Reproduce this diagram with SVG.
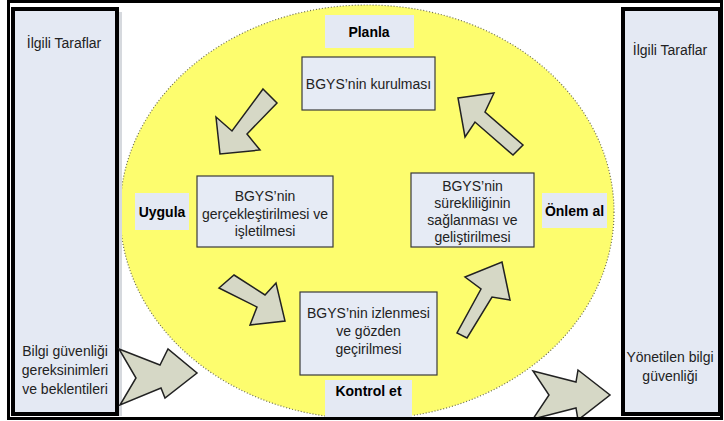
<svg xmlns="http://www.w3.org/2000/svg" width="724" height="421" viewBox="0 0 724 421">
<defs>
<style>
.panel{fill:#e4e9f3;stroke:#000;stroke-width:4}
.node{fill:#e6ebf5;stroke:#3a3a3a;stroke-width:1.2}
.lbl{fill:#e4e9f3;stroke:none}
.t{font-family:"Liberation Sans",Arial,sans-serif;font-size:14px;fill:#222;text-anchor:middle}
.b{font-family:"Liberation Sans",Arial,sans-serif;font-size:14px;font-weight:bold;fill:#000;text-anchor:middle}
.arr{fill:#d6d8c6;stroke:#222;stroke-width:1.5;stroke-linejoin:miter}
</style>
<clipPath id="frameClip"><rect x="8" y="2" width="714" height="416"/></clipPath>
</defs>
<rect x="0" y="0" width="724" height="421" fill="#fff"/>
<g id="cycle-area" clip-path="url(#frameClip)">
<ellipse cx="367" cy="212" rx="247" ry="207" fill="#fdfd6e" stroke="#6e6e50" stroke-width="1.2" stroke-dasharray="1 2"/>
</g>
<g id="left-panel">
<rect x="118" y="12" width="4" height="404" fill="#d6d9de"/>
<rect class="panel" x="13" y="9" width="104" height="405"/>
<text class="t" x="64" y="48">İlgili Taraflar</text>
<text class="t" x="65" y="356">Bilgi güvenliği</text>
<text class="t" x="65" y="375">gereksinimleri</text>
<text class="t" x="65" y="394">ve beklentileri</text>
</g>
<g id="right-panel">
<rect class="panel" x="623" y="9" width="97" height="405"/>
<text class="t" x="670" y="55">İlgili Taraflar</text>
<text class="t" x="670" y="362">Yönetilen bilgi</text>
<text class="t" x="670" y="381">güvenliği</text>
</g>
<g id="planla">
<rect class="lbl" x="325" y="15" width="89" height="33"/>
<text class="b" x="369" y="37">Planla</text>
</g>
<g id="kurulmasi">
<rect class="node" x="302" y="57" width="133" height="53"/>
<text class="t" x="368.5" y="89">BGYS’nin kurulması</text>
</g>
<g id="uygula">
<rect class="lbl" x="135" y="193" width="54" height="37"/>
<text class="b" x="162" y="217">Uygula</text>
</g>
<g id="gerceklestirilmesi">
<rect class="node" x="197" y="176" width="136" height="71"/>
<text class="t" x="265" y="201">BGYS’nin</text>
<text class="t" x="265" y="219">gerçekleştirilmesi ve</text>
<text class="t" x="265" y="236">işletilmesi</text>
</g>
<g id="onlem-al">
<rect class="lbl" x="542" y="193" width="65" height="35"/>
<text class="b" x="574.5" y="216">Önlem al</text>
</g>
<g id="surekliligi">
<rect class="node" x="411" y="173" width="123" height="74"/>
<text class="t" x="472.5" y="191">BGYS’nin</text>
<text class="t" x="472.5" y="208">sürekliliğinin</text>
<text class="t" x="472.5" y="225">sağlanması ve</text>
<text class="t" x="472.5" y="242">geliştirilmesi</text>
</g>
<g id="izlenmesi">
<rect class="node" x="300" y="292" width="137" height="83"/>
<text class="t" x="368.5" y="318">BGYS’nin izlenmesi</text>
<text class="t" x="368.5" y="336">ve gözden</text>
<text class="t" x="368.5" y="354">geçirilmesi</text>
</g>
<g id="kontrol-et">
<rect class="lbl" x="325" y="380" width="87" height="37"/>
<text class="b" x="368.5" y="396">Kontrol et</text>
</g>
<g id="connectors">
<polygon class="arr" points="263,89 277,103 247,134 260,150 220,154 216,117 232,131"/>
<polygon class="arr" points="234,275 265,295 276,283 285,321 250,325 257,307 219,288"/>
<polygon class="arr" points="502,262 510,300 492,297 467,338 457,333 481,289 465,277"/>
<polygon class="arr" points="458,98 494,93 485,112 523,145 513,155 475,122 465,137"/>
<polygon class="arr" points="119,349 160,365 168,349 197,373 165,398 161,388 120,405 136,378"/>
<g clip-path="url(#frameClip)">
<polygon class="arr" points="533,371 576,382 578,370 610,395 578,420 576,408 533,419 549,395"/>
</g>
</g>
<rect id="frame" x="8.5" y="1.5" width="713" height="417" fill="none" stroke="#000" stroke-width="3"/>
</svg>
